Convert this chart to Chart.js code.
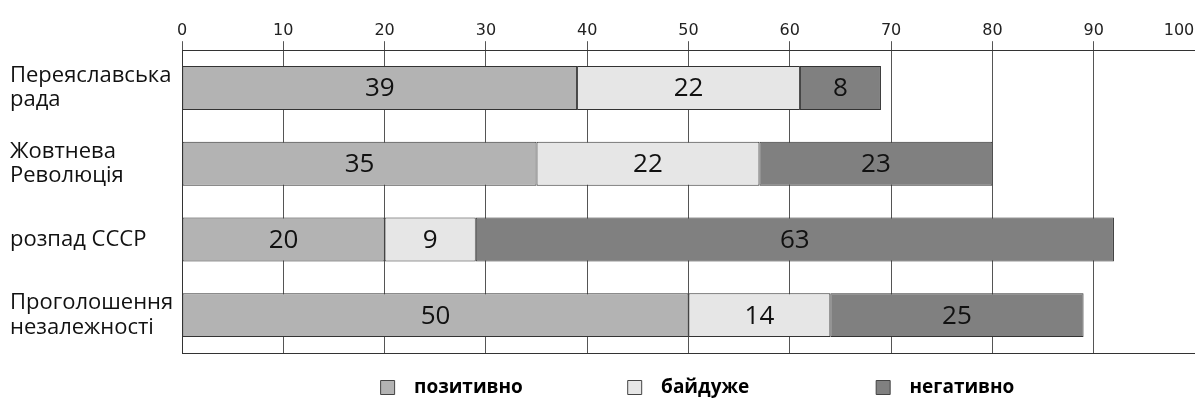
<!DOCTYPE html>
<html>
<head>
<meta charset="utf-8">
<script src="https://cdn.jsdelivr.net/npm/chart.js@4.4.1/dist/chart.umd.min.js"></script>
<style>
  html, body { margin: 0; padding: 0; background: #fff; }
  #wrap { width: 1195px; height: 400px; position: relative; }
</style>
</head>
<body>
<div id="wrap"><canvas id="chart"></canvas></div>
<script>
var categories = [
  ['Переяславська', 'рада'],
  ['Жовтнева', 'Революція'],
  ['розпад СССР'],
  ['Проголошення', 'незалежності']
];
var positive = [39, 35, 20, 50];
var indifferent = [22, 22, 9, 14];
var negative = [8, 23, 63, 25];
var seriesNames = ['позитивно', 'байдуже', 'негативно'];

// trailing spaces give the legend its wide columns
var legendGaps = ['\u2003\u2003\u2003\u2003\u2003 \u200A', '\u2003\u2003\u2003\u2003\u2003\u2003  ', ''];

// draws the value in the middle of every bar
var barValues = {
  id: 'barValues',
  afterDatasetsDraw: function (chart) {
    var ctx = chart.ctx;
    ctx.save();
    ctx.font = '26px "Open Sans", sans-serif';
    ctx.fillStyle = '#111';
    ctx.textAlign = 'center';
    ctx.textBaseline = 'middle';
    chart.data.datasets.forEach(function (ds, i) {
      chart.getDatasetMeta(i).data.forEach(function (bar, j) {
        var c = bar.getCenterPoint();
        ctx.fillText(ds.data[j], c.x, c.y + 1);
      });
    });
    ctx.restore();
  }
};

// move the legend right and a little down, like in the original layout
var legendShift = {
  id: 'legendShift',
  afterLayout: function (chart) {
    chart.legend.left += 190;
    chart.legend.top += 7;
    chart.legend.bottom += 7;
  }
};

function makeDataset(label, values, color) {
  return {
    label: label,
    data: values,
    backgroundColor: color,
    borderColor: '#333',
    borderWidth: 1,
    borderSkipped: false,
    barPercentage: 0.58,
    categoryPercentage: 1.0
  };
}

var ctx = document.getElementById('chart').getContext('2d');
var chart = new Chart(ctx, {
  type: 'bar',
  data: {
    labels: categories,
    datasets: [
      makeDataset(seriesNames[0], positive, '#b3b3b3'),
      makeDataset(seriesNames[1], indifferent, '#e6e6e6'),
      makeDataset(seriesNames[2], negative, '#808080')
    ]
  },
  options: {
    indexAxis: 'y',
    responsive: true,
    maintainAspectRatio: false,
    animation: false,
    layout: { padding: { left: 10, right: 0, top: 20, bottom: 0 } },
    plugins: {
      tooltip: { enabled: false },
      legend: {
        position: 'bottom',
        labels: {
          boxWidth: 14,
          boxHeight: 14,
          padding: 3,
          color: '#111',
          font: { family: '"Open Sans", sans-serif', size: 19, weight: 'bold' },
          generateLabels: function (chart) {
            return chart.data.datasets.map(function (ds, i) {
              return {
                text: '  ' + ds.label + legendGaps[i],
                fillStyle: ds.backgroundColor,
                strokeStyle: '#444',
                lineWidth: 1,
                datasetIndex: i
              };
            });
          }
        }
      }
    },
    scales: {
      x: {
        stacked: true,
        position: 'top',
        min: 0,
        max: 100,
        ticks: {
          stepSize: 10,
          color: '#222',
          padding: 1,
          font: { family: '"DejaVu Sans", sans-serif', size: 16 },
          callback: function (v) { return v === 100 ? '100\u2003\u2003' : v; }
        },
        grid: { color: '#555', lineWidth: 1, tickLength: 9, drawTicks: true },
        border: { color: '#333', width: 1 },
        afterFit: function (scale) { scale.paddingRight = 0; }
      },
      x2: {
        position: 'bottom',
        min: 0,
        max: 100,
        ticks: { display: false },
        grid: { display: false, drawTicks: false },
        border: { color: '#333', width: 1 },
        afterFit: function (scale) { scale.height = 15; }
      },
      y: {
        stacked: true,
        ticks: {
          crossAlign: 'far',
          color: '#111',
          padding: 8,
          font: { family: '"Open Sans", sans-serif', size: 22, lineHeight: 1.1 }
        },
        grid: { display: false, drawTicks: false },
        border: { color: '#333', width: 1 },
        afterFit: function (scale) { scale.width = 172; }
      }
    }
  },
  plugins: [barValues, legendShift]
});
</script>
</body>
</html>
